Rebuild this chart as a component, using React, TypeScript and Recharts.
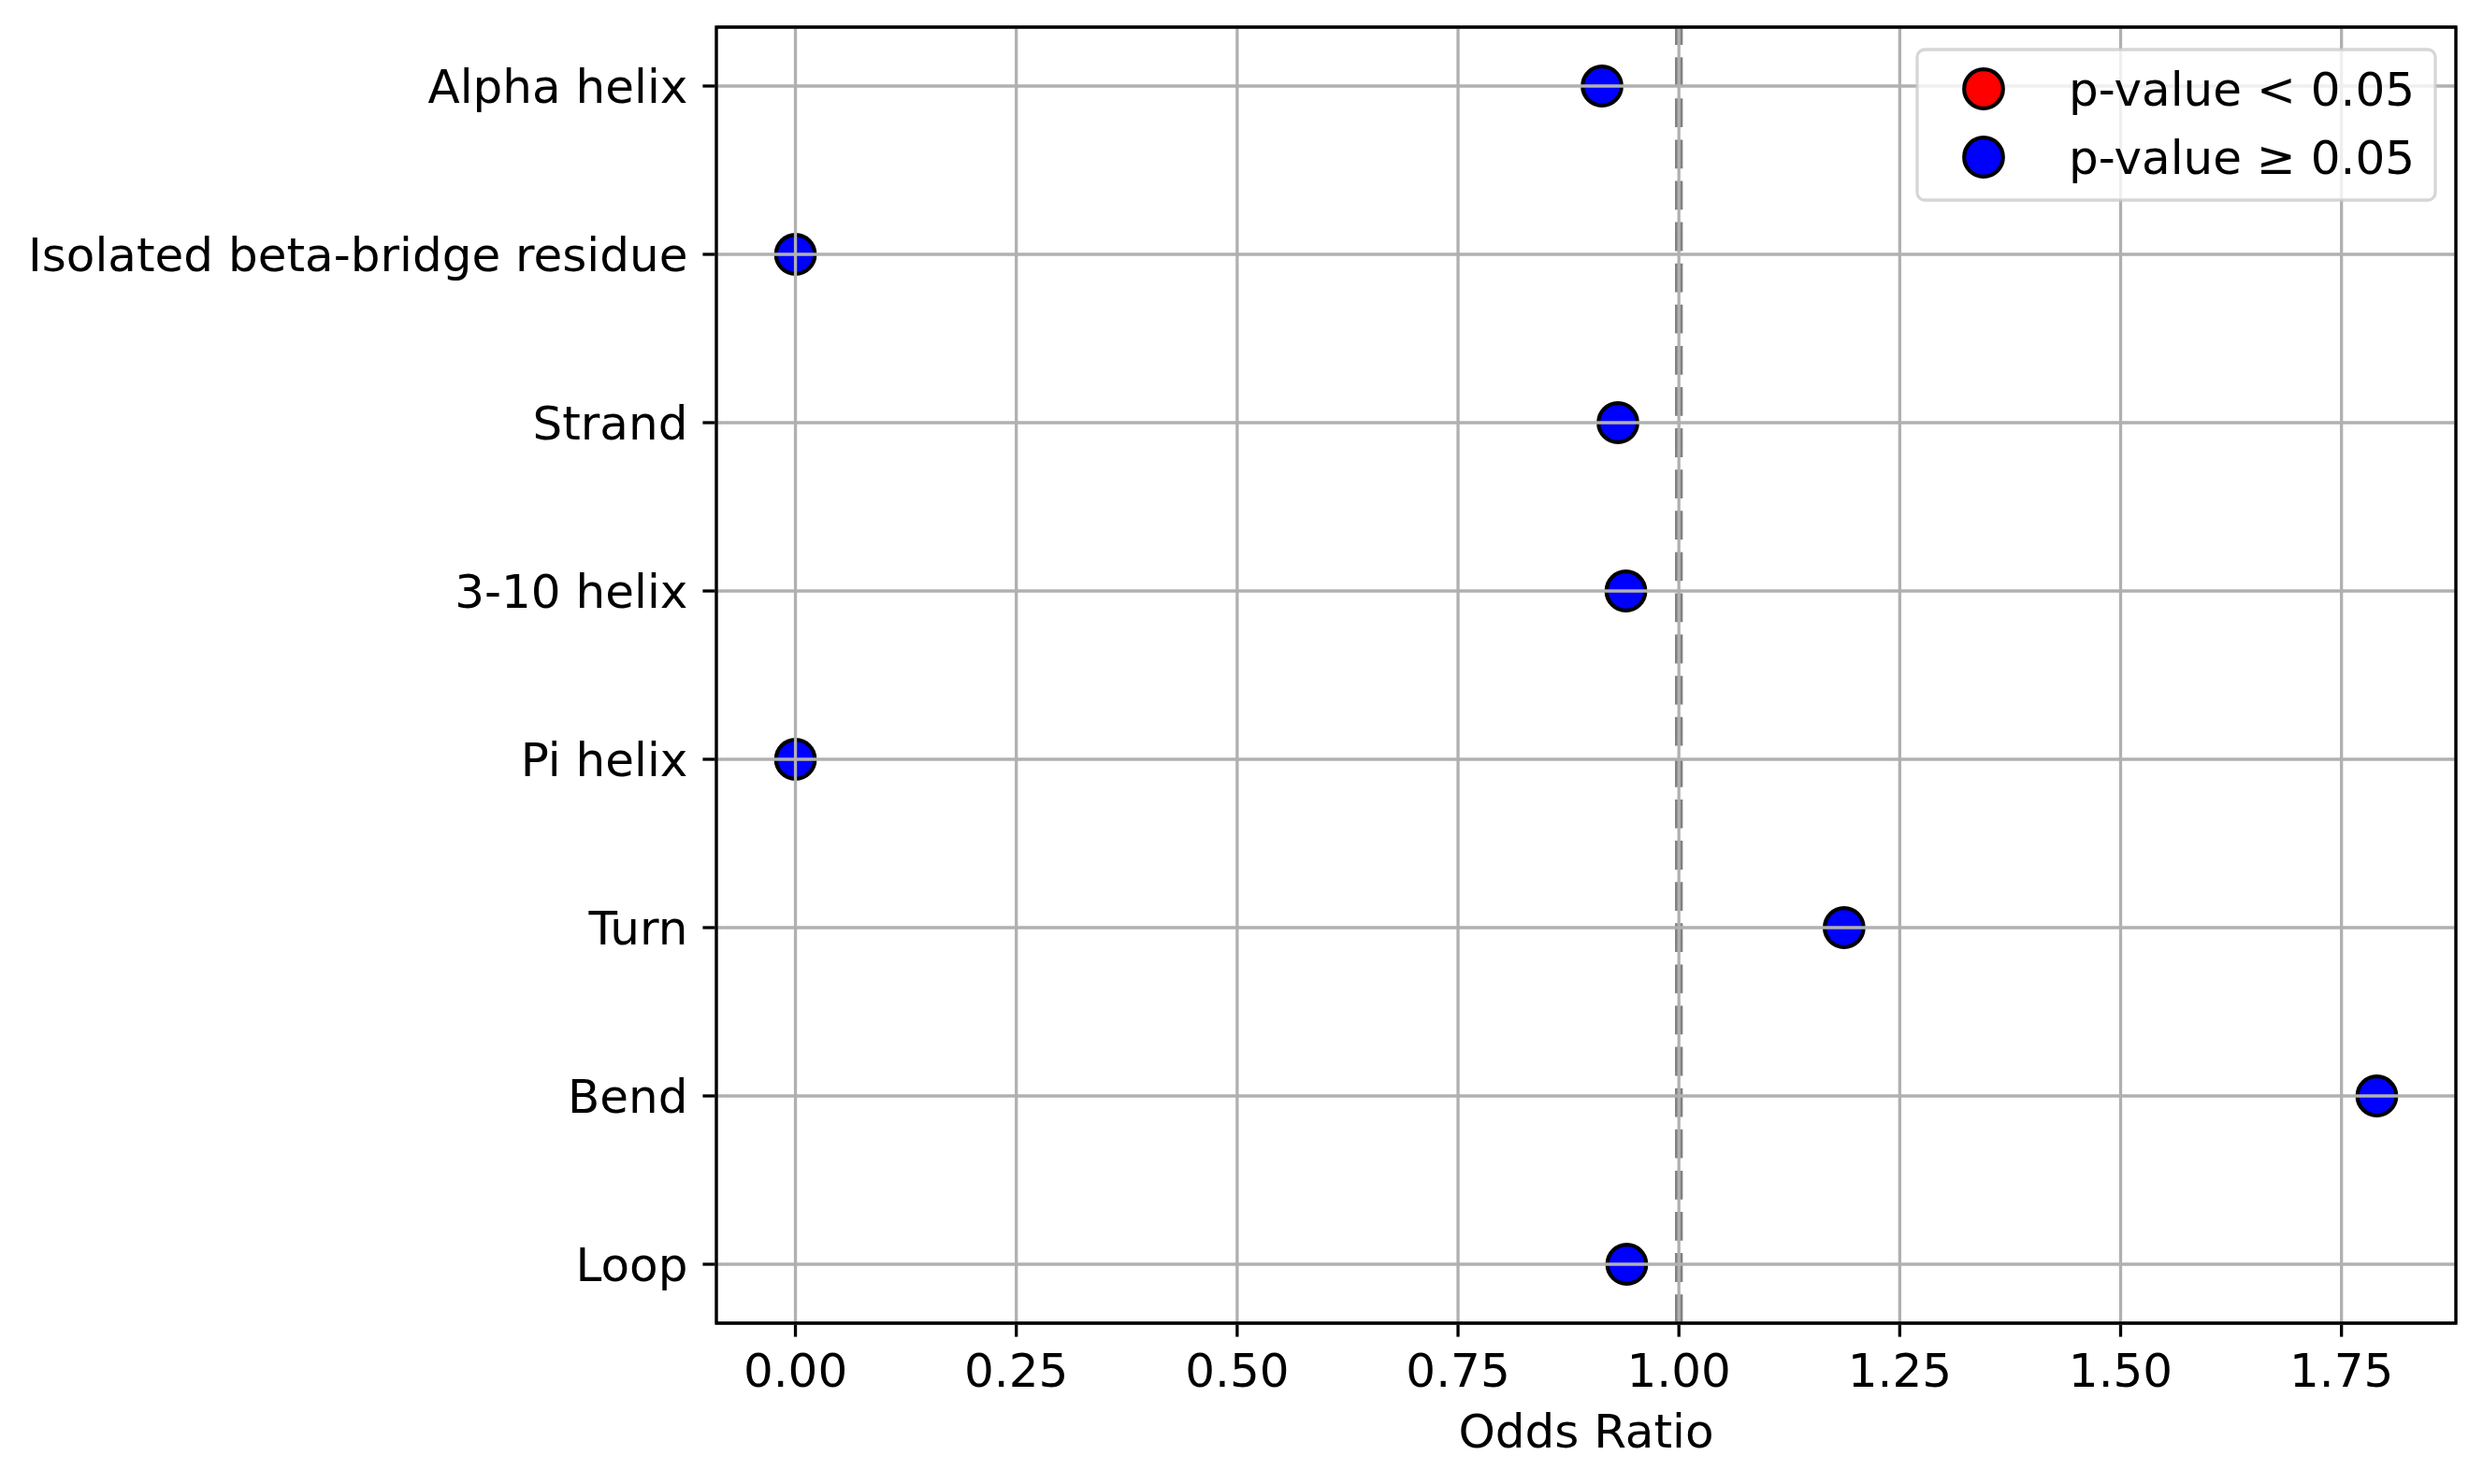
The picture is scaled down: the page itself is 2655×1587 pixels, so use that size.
import React from 'react';
import {
  ScatterChart,
  Scatter,
  XAxis,
  YAxis,
  CartesianGrid,
  ReferenceLine,
  ReferenceArea,
  Legend,
} from 'recharts';

// secondary structure classes, top to bottom
const categories = [
  'Alpha helix',
  'Isolated beta-bridge residue',
  'Strand',
  '3-10 helix',
  'Pi helix',
  'Turn',
  'Bend',
  'Loop',
];
const oddsRatios = [0.913, 0, 0.931, 0.94, 0, 1.187, 1.79, 0.941];
const significant = [false, false, false, false, false, false, false, false];
const xTicks = [0, 0.25, 0.5, 0.75, 1, 1.25, 1.5, 1.75];

const FONT = '"DejaVu Sans", sans-serif';
const W = 2655;
const H = 1587;

const points = categories.map((name, i) => ({ name, y: i, x: oddsRatios[i], sig: significant[i] }));
const sigPoints = points.filter(p => p.sig);
const nsPoints = points.filter(p => !p.sig);

// matplotlib-like 5% margins
const xMin = Math.min(...oddsRatios);
const xMax = Math.max(...oddsRatios);
const xPad = (xMax - xMin) * 0.05;
const xDomain = [xMin - xPad, xMax + xPad];
const yPad = (categories.length - 1) * 0.05;
const yDomain = [-yPad, categories.length - 1 + yPad];
const yTicks = categories.map((_, i) => i);

const dot = (color: string) => (props: any) => (
  <circle cx={props.cx} cy={props.cy} r={20.8} fill={color} stroke="#000" strokeWidth={4.2} />
);

function LegendBox() {
  const rows = [
    { color: '#ff0000', label: 'p-value < 0.05' },
    { color: '#0000ff', label: 'p-value \u2265 0.05' },
  ];
  return (
    <svg width={558} height={165} style={{ display: 'block' }}>
      <rect x={2} y={2} width={554} height={161} rx={8} ry={8}
        fill="rgba(255,255,255,0.8)" stroke="rgba(204,204,204,0.8)" strokeWidth={3.3} />
      {rows.map((r, i) => (
        <g key={r.label}>
          <circle cx={73} cy={44 + i * 73} r={20.8} fill={r.color} stroke="#000" strokeWidth={4.2} />
          <text x={164} y={62 + i * 73} fontFamily={FONT} fontSize={50} fill="#000">{r.label}</text>
        </g>
      ))}
    </svg>
  );
}

export default function App() {
  return (
    <div style={{ width: W, height: H, background: '#fff' }}>
      <style>{'body{margin:0}'}</style>
      <ScatterChart width={W} height={H} margin={{ top: 29, right: 29, bottom: 0, left: 0 }}>
        <XAxis
          type="number"
          dataKey="x"
          domain={xDomain}
          allowDataOverflow
          ticks={xTicks}
          interval={0}
          tickFormatter={(v: number) => v.toFixed(2)}
          height={172}
          tickSize={14.6}
          tickMargin={18}
          axisLine={false}
          tickLine={{ stroke: '#000', strokeWidth: 3.3 }}
          tick={{ fill: '#000', fontSize: 50, fontFamily: FONT }}
          label={{ value: 'Odds Ratio', position: 'insideBottom', offset: 39, fill: '#000', fontSize: 50, fontFamily: FONT }}
        />
        <YAxis
          type="number"
          dataKey="y"
          domain={yDomain}
          allowDataOverflow
          reversed
          ticks={yTicks}
          interval={0}
          tickFormatter={(v: number) => categories[v]}
          width={766}
          tickSize={14.6}
          tickMargin={16}
          axisLine={false}
          tickLine={{ stroke: '#000', strokeWidth: 3.3 }}
          tick={{ fill: '#000', fontSize: 50, fontFamily: FONT }}
        />
        <Scatter name="p-value < 0.05" data={sigPoints} fill="#ff0000" shape={dot('#ff0000')} isAnimationActive={false} />
        <Scatter name="p-value ≥ 0.05" data={nsPoints} fill="#0000ff" shape={dot('#0000ff')} isAnimationActive={false} />
        <ReferenceLine x={1} stroke="#808080" strokeWidth={8.3} strokeDasharray="30.8 13.3" />
        <CartesianGrid stroke="#b0b0b0" strokeWidth={3.3} strokeDasharray="" zIndex={1000} />
        <ReferenceArea
          x1={xDomain[0]}
          x2={xDomain[1]}
          y1={yDomain[0]}
          y2={yDomain[1]}
          fill="none"
          fillOpacity={0}
          stroke="#000"
          strokeWidth={3.3}
          ifOverflow="visible"
          zIndex={1100}
        />
        <Legend
          layout="horizontal"
          align="center"
          verticalAlign="middle"
          content={() => <LegendBox />}
          wrapperStyle={{ position: 'absolute', left: 2048, top: 51, width: 558, height: 165 }}
        />
      </ScatterChart>
    </div>
  );
}
